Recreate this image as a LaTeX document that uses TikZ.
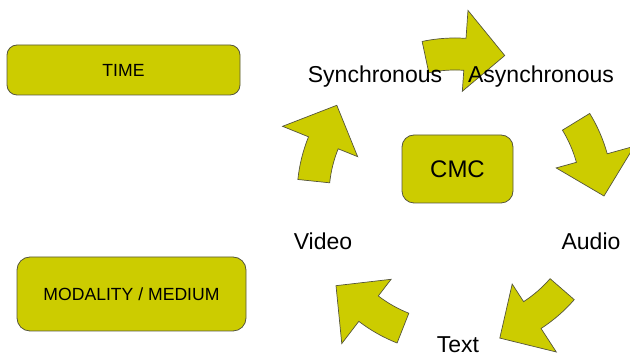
\documentclass[tikz,border=0pt]{standalone}
\usepackage{fontspec}
\setmainfont{Liberation Sans}
\usepackage{tikz}
\usetikzlibrary{calc}
\usepackage{xcolor}
\definecolor{cycfill}{RGB}{204,204,0}
\definecolor{cycline}{RGB}{85,85,60}

\begin{document}
\begin{tikzpicture}[x=1pt,y=1pt]
  \tikzset{box/.style = {shape=rectangle,draw=cycline,fill=cycfill,line width=0.8pt,inner sep=0pt}}
  \tikzset{label/.style = {anchor=base,inner sep=0pt,font=\fontsize{23}{27}\selectfont}}
  \tikzset{cyc/.style = {draw=cycline,fill=cycfill,line width=0.7pt,line join=miter}}

  \useasboundingbox (0,0) rectangle (630,358);

	\node[box,minimum width=233,minimum height=50,rounded corners=10pt,font=\fontsize{17.6}{20}\selectfont] (time) at (123.5,288) {TIME};
	\node[box,minimum width=229,minimum height=74,rounded corners=13pt,font=\fontsize{17.6}{20}\selectfont] (modality) at (131.5,64) {MODALITY / MEDIUM};
	\node[box,minimum width=111,minimum height=68,rounded corners=12pt,font=\fontsize{24}{28}\selectfont] (cmc) at (457.5,189) {CMC};

	\coordinate (C) at (455,162);

    \foreach \m in {86,15.5,-57,-127.5,158}
    \path[cyc] ($(C)+(\m+16:126)$) arc[start angle=\m+16, end angle=\m, radius=126]
      -- ($(C)+(\m:105)$) -- ($(C)+(\m-15.5:149)$) -- ($(C)+(\m:186)$)
      -- ($(C)+(\m:158)$) arc[start angle=\m, end angle=\m+16, radius=158] -- cycle;

	\node[label] (sync) at (375,275) {Synchronous};
	\node[label] (async) at (541,275) {Asynchronous};
	\node[label] (audio) at (591,108) {Audio};
	\node[label] (text) at (458,5) {Text};
	\node[label] (video) at (323,108) {Video};

\end{tikzpicture}
\end{document}
